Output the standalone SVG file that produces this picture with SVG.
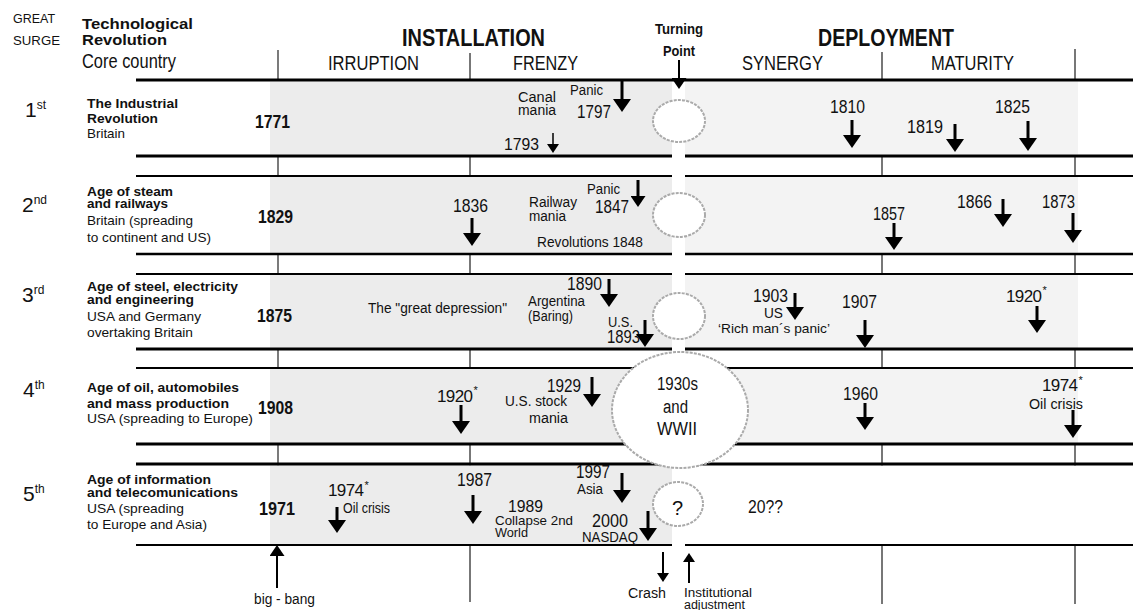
<svg xmlns="http://www.w3.org/2000/svg" width="1133" height="610" viewBox="0 0 1133 610">
<style>
text{font-family:"Liberation Sans",Arial,Helvetica,sans-serif;fill:#111}
.b{font-weight:bold}
.hl{stroke:#000;fill:none}
.dv{stroke:#777;stroke-width:2}
.sl{fill:#ececec}
.sr{fill:#f3f3f3}
.wh{fill:#fff}
.cir{fill:#fff;stroke:#aaa;stroke-width:2;stroke-dasharray:3 1.2}
.ab{stroke:#000;stroke-width:3;fill:none}
.as{stroke:#000;stroke-width:1.5;fill:none}
.am{stroke:#000;stroke-width:2;fill:none}
.yr{font-size:17px;letter-spacing:-0.6px}
.sup{font-size:11px}
</style>
<defs>
<marker id="hb" viewBox="0 0 13 18" refX="0" refY="9" markerWidth="13" markerHeight="18" markerUnits="userSpaceOnUse" orient="auto"><path d="M0,0 L13,9 L0,18 Z" fill="#000"/></marker>
<marker id="hm" viewBox="0 0 11 15" refX="0" refY="7.5" markerWidth="11" markerHeight="15" markerUnits="userSpaceOnUse" orient="auto"><path d="M0,0 L11,7.5 L0,15 Z" fill="#000"/></marker>
<marker id="hs" viewBox="0 0 9 12" refX="0" refY="6" markerWidth="9" markerHeight="12" markerUnits="userSpaceOnUse" orient="auto"><path d="M0,0 L9,6 L0,12 Z" fill="#000"/></marker>
</defs>
<rect width="1133" height="610" fill="#fff"/>

<g id="dividers">
<line x1="278" y1="50" x2="278" y2="545" stroke="#222" stroke-width="1.2"/>
<line class="dv" x1="470" y1="53" x2="470" y2="602"/>
<line class="dv" x1="882" y1="52" x2="882" y2="604"/>
<line class="dv" x1="1075" y1="49" x2="1075" y2="604"/>
</g>

<g id="bands">
<rect class="wh" x="136" y="81" width="997" height="74"/>
<rect class="sl" x="270" y="81.5" width="402" height="73"/>
<rect class="sr" x="685" y="81.5" width="393" height="73"/>
<rect class="wh" x="136" y="177" width="997" height="76"/>
<rect class="sl" x="270" y="177" width="402" height="76"/>
<rect class="sr" x="685" y="177" width="393" height="76"/>
<rect class="wh" x="136" y="275" width="997" height="73"/>
<rect class="sl" x="270" y="275" width="402" height="73"/>
<rect class="sr" x="685" y="275" width="393" height="73"/>
<rect class="wh" x="136" y="369" width="997" height="74"/>
<rect class="sl" x="270" y="369" width="402" height="74"/>
<rect class="sr" x="685" y="369" width="393" height="74"/>
<rect class="wh" x="136" y="465.5" width="997" height="79"/>
<rect class="sl" x="270" y="465.5" width="402" height="79"/>
</g>

<g id="rules">
<line class="hl" x1="136" y1="80" x2="1133" y2="80" stroke-width="3"/>
<path class="hl" d="M136,156 H672 M685,156 H1133" stroke-width="3"/>
<path class="hl" d="M136,176 H672 M685,176 H1133" stroke-width="2"/>
<path class="hl" d="M136,254 H672 M685,254 H1133" stroke-width="2.6"/>
<path class="hl" d="M136,274 H672 M685,274 H1133" stroke-width="2"/>
<path class="hl" d="M136,349 H672 M685,349 H1133" stroke-width="3"/>
<line class="hl" x1="136" y1="368" x2="1133" y2="368" stroke-width="2"/>
<line class="hl" x1="136" y1="444" x2="1133" y2="444" stroke-width="3"/>
<line class="hl" x1="136" y1="464" x2="1133" y2="464" stroke-width="3"/>
<path class="hl" d="M136,545 H672 M685,545 H1133" stroke-width="2"/>
</g>

<g id="header">
<text x="13" y="23" font-size="13.5" textLength="42" lengthAdjust="spacingAndGlyphs">GREAT</text>
<text x="13" y="45" font-size="13.5" textLength="47" lengthAdjust="spacingAndGlyphs">SURGE</text>
<text class="b" x="82" y="29" font-size="15.5" textLength="111" lengthAdjust="spacingAndGlyphs">Technological</text>
<text class="b" x="82" y="45" font-size="15.5" textLength="85" lengthAdjust="spacingAndGlyphs">Revolution</text>
<text x="82" y="68" font-size="21" textLength="94" lengthAdjust="spacingAndGlyphs">Core country</text>
<text class="b" x="402" y="46" font-size="23" textLength="143" lengthAdjust="spacingAndGlyphs">INSTALLATION</text>
<text x="328" y="70" font-size="21" textLength="91" lengthAdjust="spacingAndGlyphs">IRRUPTION</text>
<text x="513" y="70" font-size="21" textLength="65" lengthAdjust="spacingAndGlyphs">FRENZY</text>
<text class="b" x="655" y="34" font-size="14" textLength="48" lengthAdjust="spacingAndGlyphs">Turning</text>
<text class="b" x="663" y="56" font-size="14" textLength="32" lengthAdjust="spacingAndGlyphs">Point</text>
<text class="b" x="818" y="46" font-size="23" textLength="136" lengthAdjust="spacingAndGlyphs">DEPLOYMENT</text>
<text x="742" y="70" font-size="21" textLength="81" lengthAdjust="spacingAndGlyphs">SYNERGY</text>
<text x="931" y="70" font-size="21" textLength="83" lengthAdjust="spacingAndGlyphs">MATURITY</text>
</g>

<g id="surge-1">
<text x="25" y="117" font-size="21">1<tspan dy="-8" font-size="12">st</tspan></text>
<text class="b" x="87" y="108" font-size="13.5" textLength="91" lengthAdjust="spacingAndGlyphs">The Industrial</text>
<text class="b" x="87" y="123" font-size="13.5" textLength="71" lengthAdjust="spacingAndGlyphs">Revolution</text>
<text x="87" y="138" font-size="13.5" textLength="38" lengthAdjust="spacingAndGlyphs">Britain</text>
<text class="b" x="255" y="128" font-size="18" textLength="35" lengthAdjust="spacingAndGlyphs">1771</text>
<text x="518" y="102" font-size="14" textLength="38" lengthAdjust="spacingAndGlyphs">Canal</text>
<text x="518" y="115" font-size="14" textLength="38" lengthAdjust="spacingAndGlyphs">mania</text>
<text x="570" y="95" font-size="14" textLength="33" lengthAdjust="spacingAndGlyphs">Panic</text>
<text x="577" y="118" font-size="18" textLength="34" lengthAdjust="spacingAndGlyphs">1797</text>
<text x="504" y="150" font-size="17" textLength="35" lengthAdjust="spacingAndGlyphs">1793</text>
<ellipse class="cir" cx="679" cy="121" rx="26" ry="21"/>
<text x="830" y="113" font-size="18" textLength="35" lengthAdjust="spacingAndGlyphs">1810</text>
<text x="907" y="133" font-size="18" textLength="36" lengthAdjust="spacingAndGlyphs">1819</text>
<text x="995" y="113" font-size="18" textLength="35" lengthAdjust="spacingAndGlyphs">1825</text>
</g>

<g id="surge-2">
<text x="22" y="212" font-size="21">2<tspan dy="-8" font-size="12">nd</tspan></text>
<text class="b" x="87" y="196" font-size="13.5" textLength="86" lengthAdjust="spacingAndGlyphs">Age of steam</text>
<text class="b" x="87" y="208" font-size="13.5" textLength="81" lengthAdjust="spacingAndGlyphs">and railways</text>
<text x="87" y="225" font-size="13.5" textLength="106" lengthAdjust="spacingAndGlyphs">Britain (spreading</text>
<text x="87" y="242" font-size="13.5" textLength="124" lengthAdjust="spacingAndGlyphs">to continent and US)</text>
<text class="b" x="258" y="223" font-size="18" textLength="35" lengthAdjust="spacingAndGlyphs">1829</text>
<text x="453" y="212" font-size="18" textLength="35" lengthAdjust="spacingAndGlyphs">1836</text>
<text x="529" y="207" font-size="14" textLength="48" lengthAdjust="spacingAndGlyphs">Railway</text>
<text x="529" y="221" font-size="14" textLength="37" lengthAdjust="spacingAndGlyphs">mania</text>
<text x="587" y="194" font-size="14" textLength="33" lengthAdjust="spacingAndGlyphs">Panic</text>
<text x="595" y="213" font-size="18" textLength="34" lengthAdjust="spacingAndGlyphs">1847</text>
<text x="537" y="247" font-size="14" textLength="106" lengthAdjust="spacingAndGlyphs">Revolutions 1848</text>
<ellipse class="cir" cx="679" cy="215" rx="26" ry="22"/>
<text x="873" y="220" font-size="18" textLength="32" lengthAdjust="spacingAndGlyphs">1857</text>
<text x="957" y="208" font-size="18" textLength="35" lengthAdjust="spacingAndGlyphs">1866</text>
<text x="1042" y="208" font-size="18" textLength="33" lengthAdjust="spacingAndGlyphs">1873</text>
</g>

<g id="surge-3">
<text x="22" y="302" font-size="21">3<tspan dy="-8" font-size="12">rd</tspan></text>
<text class="b" x="87" y="291" font-size="13.5" textLength="151" lengthAdjust="spacingAndGlyphs">Age of steel, electricity</text>
<text class="b" x="87" y="304" font-size="13.5" textLength="107" lengthAdjust="spacingAndGlyphs">and engineering</text>
<text x="87" y="321" font-size="13.5" textLength="114" lengthAdjust="spacingAndGlyphs">USA and Germany</text>
<text x="87" y="337" font-size="13.5" textLength="106" lengthAdjust="spacingAndGlyphs">overtaking Britain</text>
<text class="b" x="257" y="322" font-size="18" textLength="35" lengthAdjust="spacingAndGlyphs">1875</text>
<text x="368" y="313" font-size="14" textLength="139" lengthAdjust="spacingAndGlyphs">The "great depression"</text>
<text x="567" y="290" font-size="18" textLength="35" lengthAdjust="spacingAndGlyphs">1890</text>
<text x="528" y="306" font-size="14" textLength="57" lengthAdjust="spacingAndGlyphs">Argentina</text>
<text x="528" y="321" font-size="14" textLength="45" lengthAdjust="spacingAndGlyphs">(Baring)</text>
<text x="608" y="327" font-size="14" textLength="25" lengthAdjust="spacingAndGlyphs">U.S.</text>
<text x="607" y="343" font-size="18" textLength="33" lengthAdjust="spacingAndGlyphs">1893</text>
<ellipse class="cir" cx="679" cy="316" rx="26" ry="23"/>
<text x="753" y="302" font-size="18" textLength="35" lengthAdjust="spacingAndGlyphs">1903</text>
<text x="764" y="318" font-size="14" textLength="19" lengthAdjust="spacingAndGlyphs">US</text>
<text x="718" y="333" font-size="13" textLength="112" lengthAdjust="spacingAndGlyphs">‘Rich man´s panic’</text>
<text x="842" y="308" font-size="18" textLength="35" lengthAdjust="spacingAndGlyphs">1907</text>
<text class="yr" x="1006" y="302">1920<tspan class="sup" dx="1" dy="-8">*</tspan></text>
</g>

<g id="surge-4">
<text x="23" y="397" font-size="21">4<tspan dy="-8" font-size="12">th</tspan></text>
<text class="b" x="87" y="392" font-size="13.5" textLength="152" lengthAdjust="spacingAndGlyphs">Age of oil, automobiles</text>
<text class="b" x="87" y="408" font-size="13.5" textLength="142" lengthAdjust="spacingAndGlyphs">and mass production</text>
<text x="87" y="423" font-size="13.5" textLength="166" lengthAdjust="spacingAndGlyphs">USA (spreading to Europe)</text>
<text class="b" x="258" y="414" font-size="18" textLength="35" lengthAdjust="spacingAndGlyphs">1908</text>
<text class="yr" x="437" y="402">1920<tspan class="sup" dx="1" dy="-8">*</tspan></text>
<text x="547" y="392" font-size="18" textLength="34" lengthAdjust="spacingAndGlyphs">1929</text>
<text x="505" y="406" font-size="14" textLength="62" lengthAdjust="spacingAndGlyphs">U.S. stock</text>
<text x="529" y="423" font-size="14" textLength="39" lengthAdjust="spacingAndGlyphs">mania</text>
<ellipse class="cir" cx="680" cy="410" rx="68" ry="58"/>
<text x="657" y="390" font-size="18" textLength="41" lengthAdjust="spacingAndGlyphs">1930s</text>
<text x="663" y="413" font-size="18" textLength="25" lengthAdjust="spacingAndGlyphs">and</text>
<text x="657" y="435" font-size="18" textLength="40" lengthAdjust="spacingAndGlyphs">WWII</text>
<text x="843" y="400" font-size="18" textLength="35" lengthAdjust="spacingAndGlyphs">1960</text>
<text class="yr" x="1042" y="391">1974<tspan class="sup" dx="1" dy="-7">*</tspan></text>
<text x="1029" y="409" font-size="14" textLength="54" lengthAdjust="spacingAndGlyphs">Oil crisis</text>
</g>

<g id="surge-5">
<text x="23" y="501" font-size="21">5<tspan dy="-8" font-size="12">th</tspan></text>
<text class="b" x="87" y="484" font-size="13" textLength="124" lengthAdjust="spacingAndGlyphs">Age of information</text>
<text class="b" x="87" y="497" font-size="13" textLength="151" lengthAdjust="spacingAndGlyphs">and telecomunications</text>
<text x="87" y="513" font-size="13.5" textLength="97" lengthAdjust="spacingAndGlyphs">USA (spreading</text>
<text x="87" y="529" font-size="13.5" textLength="120" lengthAdjust="spacingAndGlyphs">to Europe and Asia)</text>
<text class="b" x="259" y="515" font-size="18" textLength="36" lengthAdjust="spacingAndGlyphs">1971</text>
<text class="yr" x="328" y="496">1974<tspan class="sup" dx="1" dy="-7">*</tspan></text>
<text x="343" y="513" font-size="14" textLength="47" lengthAdjust="spacingAndGlyphs">Oil crisis</text>
<text x="457" y="486" font-size="18" textLength="35" lengthAdjust="spacingAndGlyphs">1987</text>
<text x="508" y="512" font-size="17" textLength="35" lengthAdjust="spacingAndGlyphs">1989</text>
<text x="495" y="525" font-size="13.5" textLength="78" lengthAdjust="spacingAndGlyphs">Collapse 2nd</text>
<text x="495" y="537" font-size="13.5" textLength="33" lengthAdjust="spacingAndGlyphs">World</text>
<text x="576" y="478" font-size="18" textLength="34" lengthAdjust="spacingAndGlyphs">1997</text>
<text x="577" y="494" font-size="14" textLength="26" lengthAdjust="spacingAndGlyphs">Asia</text>
<text x="592" y="527" font-size="18" textLength="36" lengthAdjust="spacingAndGlyphs">2000</text>
<text x="582" y="542" font-size="14" textLength="56" lengthAdjust="spacingAndGlyphs">NASDAQ</text>
<ellipse class="cir" cx="678" cy="504" rx="25" ry="22"/>
<text x="672" y="515" font-size="20">?</text>
<text x="748" y="513" font-size="18" textLength="35" lengthAdjust="spacingAndGlyphs">20??</text>
</g>

<g id="footer">
<text x="254" y="604" font-size="14" textLength="61" lengthAdjust="spacingAndGlyphs">big - bang</text>
<text x="628" y="598" font-size="14" textLength="38" lengthAdjust="spacingAndGlyphs">Crash</text>
<text x="684" y="597" font-size="13" textLength="68" lengthAdjust="spacingAndGlyphs">Institutional</text>
<text x="684" y="609" font-size="12.5" textLength="61" lengthAdjust="spacingAndGlyphs">adjustment</text>
</g>

<g id="connectors">
<line class="am" x1="679" y1="60" x2="679" y2="78" marker-end="url(#hm)"/>
<line class="ab" x1="622" y1="80" x2="622" y2="99" marker-end="url(#hb)"/>
<line class="as" x1="553" y1="133" x2="553" y2="144" marker-end="url(#hs)"/>
<line class="ab" x1="852" y1="120" x2="852" y2="135" marker-end="url(#hb)"/>
<line class="ab" x1="955" y1="124" x2="955" y2="139" marker-end="url(#hb)"/>
<line class="ab" x1="1028" y1="121" x2="1028" y2="138" marker-end="url(#hb)"/>
<line class="ab" x1="472" y1="218" x2="472" y2="233" marker-end="url(#hb)"/>
<line class="ab" x1="638" y1="180" x2="638" y2="196" marker-end="url(#hm)"/>
<line class="ab" x1="894" y1="223" x2="894" y2="237" marker-end="url(#hb)"/>
<line class="ab" x1="1003" y1="199" x2="1003" y2="214" marker-end="url(#hb)"/>
<line class="ab" x1="1073" y1="213" x2="1073" y2="230" marker-end="url(#hb)"/>
<line class="ab" x1="609" y1="279" x2="609" y2="294" marker-end="url(#hb)"/>
<line class="ab" x1="645" y1="320" x2="645" y2="334" marker-end="url(#hb)"/>
<line class="ab" x1="795" y1="293" x2="795" y2="307" marker-end="url(#hb)"/>
<line class="ab" x1="865" y1="320" x2="865" y2="335" marker-end="url(#hb)"/>
<line class="ab" x1="1037" y1="306" x2="1037" y2="320" marker-end="url(#hb)"/>
<line class="ab" x1="461" y1="405" x2="461" y2="421" marker-end="url(#hb)"/>
<line class="ab" x1="592" y1="377" x2="592" y2="394" marker-end="url(#hb)"/>
<line class="ab" x1="865" y1="403" x2="865" y2="417" marker-end="url(#hb)"/>
<line class="ab" x1="1073" y1="410" x2="1073" y2="425" marker-end="url(#hb)"/>
<line class="ab" x1="337" y1="507" x2="337" y2="520" marker-end="url(#hb)"/>
<line class="ab" x1="473" y1="495" x2="473" y2="511" marker-end="url(#hb)"/>
<line class="ab" x1="622" y1="473" x2="622" y2="490" marker-end="url(#hb)"/>
<line class="ab" x1="648" y1="511" x2="648" y2="528" marker-end="url(#hb)"/>
<line class="am" x1="663" y1="552" x2="663" y2="573" marker-end="url(#hs)"/>
<line class="am" x1="689" y1="583" x2="689" y2="562" marker-end="url(#hs)"/>
<line class="am" x1="277" y1="588" x2="277" y2="556" marker-end="url(#hm)"/>
</g>
</svg>
